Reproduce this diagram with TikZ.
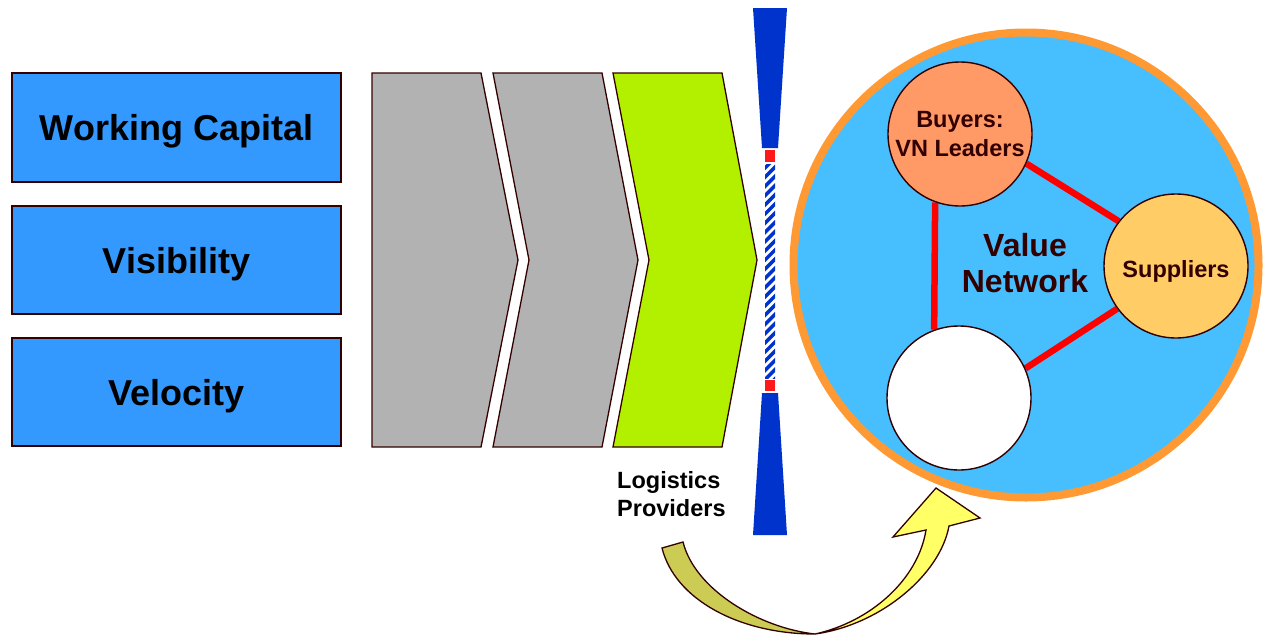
\documentclass[tikz,border=0pt]{standalone}
\usepackage{fontspec}
\setmainfont{Liberation Sans}
\usetikzlibrary{backgrounds}
\definecolor{boxblue}{HTML}{3399FF}
\definecolor{edgec}{HTML}{330000}
\definecolor{grayc}{HTML}{B2B2B2}
\definecolor{greenc}{HTML}{B2F000}
\definecolor{hblue}{HTML}{0033CC}
\definecolor{hred}{HTML}{FF1A1A}
\definecolor{orangec}{HTML}{FF9933}
\definecolor{skyc}{HTML}{47BFFF}
\definecolor{buyc}{HTML}{FF9966}
\definecolor{supc}{HTML}{FFCC66}
\definecolor{darkarrow}{HTML}{CCCC55}
\definecolor{lightarrow}{HTML}{FFFF66}
\begin{document}
\begin{tikzpicture}[x=1pt,y=-1pt,
  driver/.style={draw=edgec, fill=boxblue, line width=1.3pt, minimum width=329pt,
    inner sep=0pt, text height=26pt, text depth=0pt,
    font=\fontsize{36}{40}\selectfont\bfseries},
  chev/.style={draw=edgec, line width=1.3pt, line join=miter},
  member/.style={circle, draw=edgec, line width=1.4pt, minimum size=144pt, inner sep=0pt,
    text=edgec, align=center, font=\fontsize{23.5}{29}\selectfont\bfseries},
  link/.style={draw=red, line width=6.5pt},
  ribbon/.style={draw=edgec, line width=1.3pt, line join=miter}]
\useasboundingbox (0,0) rectangle (1264,635);

% value drivers
\node[driver, minimum height=109pt] (wc)  at (176.5,127.5) {Working Capital};
\node[driver, minimum height=108pt] (vis) at (176.5,260)   {Visibility};
\node[driver, minimum height=108pt] (vel) at (176.5,392)   {Velocity};

% process chevrons
\draw[chev, fill=grayc]  (372,73) -- (481,73) -- (518,260) -- (481,447) -- (372,447) -- cycle;
\draw[chev, fill=grayc]  (493,73) -- (602,73) -- (638,260) -- (602,447) -- (493,447) -- (529,260) -- cycle;
\draw[chev, fill=greenc] (613,73) -- (722,73) -- (757,260) -- (722,447) -- (613,447) -- (649,260) -- cycle;

% bottleneck
\fill[hblue] (753,8) -- (787,8) -- (778,148) -- (762,148) -- cycle;
\fill[hblue] (762,393) -- (778,393) -- (787,535) -- (753,535) -- cycle;
\fill[hred] (765,150) rectangle (775,162);
\fill[hred] (765,380) rectangle (775,391);
\begin{scope}
  \clip (765,164) rectangle (775,378);
  \foreach \k in {0,...,24}
    \draw[hblue, line width=3.5pt] (761,172+\k*9.2) -- (779,154+\k*9.2);
\end{scope}

\node[anchor=north west, inner sep=0pt, align=left,
  font=\fontsize{23.5}{28}\selectfont\bfseries] (lp) at (617,471) {Logistics\\Providers};

% value network
\begin{scope}[on background layer]
  \node[circle, draw=orangec, fill=skyc, line width=8pt, minimum size=465pt, inner sep=0pt]
    (vn) at (1026,265) {};
\end{scope}
\node[text=edgec, align=center, font=\fontsize{32}{36}\selectfont\bfseries] (vnt) at (1025,263) {Value\\Network};
\node[member, fill=buyc]  (buy) at (960,134) {Buyers:\\VN Leaders};
\node[member, fill=supc, text height=22pt, text depth=0pt] (sup) at (1176,266) {Suppliers};
\node[member, fill=white] (wht) at (959,398) {};
\begin{scope}[on background layer]
  \draw[link] (buy.250) -- (wht.110);
  \draw[link] (buy.-24) -- (sup.142);
  \draw[link] (wht.24) -- (sup.216);
\end{scope}

% curved transition arrow
\draw[ribbon, fill=darkarrow] (662,548) .. controls (675,600) and (740,634) .. (815,634)
  .. controls (760,628) and (695,590) .. (683,542) -- cycle;
\draw[ribbon, fill=lightarrow] (815,634) .. controls (870,622) and (918,580) .. (926,530)
  -- (893,537) -- (936,488) -- (980,518) -- (949,526)
  .. controls (940,575) and (880,625) .. (815,634) -- cycle;
\end{tikzpicture}
\end{document}
